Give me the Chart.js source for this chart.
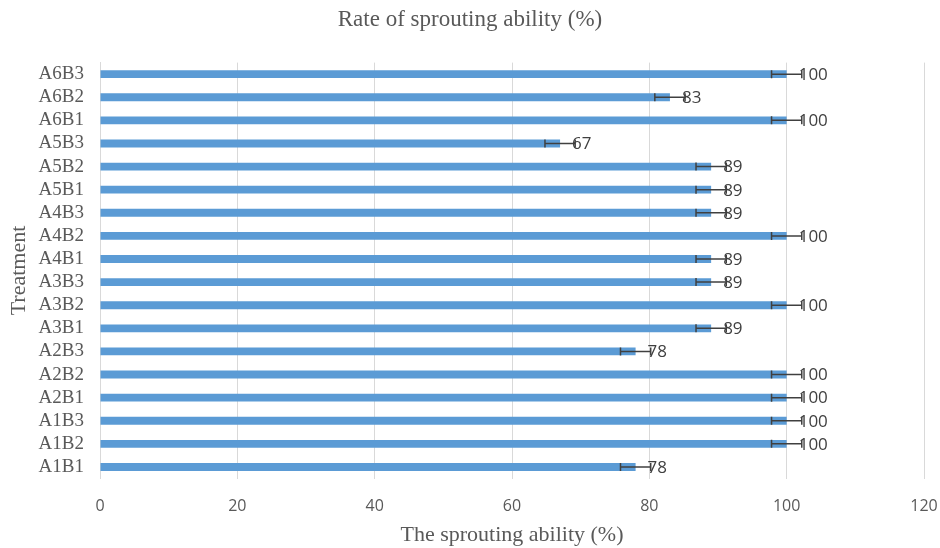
<!DOCTYPE html>
<html>
<head>
<meta charset="utf-8">
<script src="https://cdn.jsdelivr.net/npm/chart.js@4"></script>
<style>
html,body{margin:0;padding:0;background:#fff;}
#wrap{width:940px;height:548px;}
</style>
</head>
<body>
<div id="wrap"><canvas id="c" width="940" height="548"></canvas></div>
<script>
const categories = ["A1B1","A1B2","A1B3","A2B1","A2B2","A2B3","A3B1","A3B2","A3B3","A4B1","A4B2","A4B3","A5B1","A5B2","A5B3","A6B1","A6B2","A6B3"];
const values = [78,100,100,100,100,78,89,100,89,89,100,89,89,89,67,100,83,100];
const errors = [2.2,2.2,2.2,2.2,2.2,2.2,2.2,2.2,2.2,2.2,2.2,2.2,2.2,2.2,2.2,2.2,2.2,2.2];
const xTicks = [0,20,40,60,80,100,120];

const errorBarPlugin = {
  id: 'errorBars',
  afterDatasetsDraw(chart) {
    const ctx = chart.ctx;
    const xs = chart.scales.x, ys = chart.scales.y;
    ctx.save();
    ctx.strokeStyle = '#404040';
    ctx.lineWidth = 1.5;
    values.forEach((v, i) => {
      const y = ys.getPixelForValue(i);
      const x1 = xs.getPixelForValue(v - errors[i]);
      const x2 = xs.getPixelForValue(v + errors[i]);
      ctx.beginPath();
      ctx.moveTo(x1, y); ctx.lineTo(x2, y);
      ctx.moveTo(x1, y - 4); ctx.lineTo(x1, y + 4);
      ctx.moveTo(x2, y - 4); ctx.lineTo(x2, y + 4);
      ctx.stroke();
    });
    ctx.fillStyle = '#404040';
    ctx.font = '17px "Open Sans", sans-serif';
    ctx.textBaseline = 'middle';
    ctx.textAlign = 'left';
    values.forEach((v, i) => {
      const y = ys.getPixelForValue(i);
      const x = xs.getPixelForValue(v);
      ctx.fillText(String(v), x + 12, y + 1);
    });
    ctx.restore();
  }
};

new Chart(document.getElementById('c'), {
  type: 'bar',
  data: {
    labels: categories,
    datasets: [{
      data: values,
      backgroundColor: '#5B9BD5',
      barPercentage: 0.34,
      categoryPercentage: 1.0
    }]
  },
  options: {
    indexAxis: 'y',
    responsive: false,
    animation: false,
    devicePixelRatio: 1,
    layout: { padding: { left: 0, right: 0, top: 0, bottom: 0 } },
    plugins: {
      legend: { display: false },
      tooltip: { enabled: false },
      title: {
        display: true,
        text: 'Rate of sprouting ability (%)',
        color: '#595959',
        font: { family: '"Liberation Serif", serif', size: 23, weight: 'normal', lineHeight: 1.2 },
        padding: { top: 6, bottom: 29 }
      }
    },
    scales: {
      x: {
        min: 0, max: 120,
        afterBuildTicks(scale) { scale.ticks = xTicks.map(v => ({ value: v })); },
        afterFit(scale) { scale.height = 69.5; scale.paddingLeft = 0; scale.paddingRight = 16; },
        grid: { color: '#d9d9d9', lineWidth: 1, drawTicks: false },
        border: { display: false },
        ticks: {
          color: '#595959',
          padding: 18,
          font: { family: '"Open Sans", sans-serif', size: 16 }
        },
        title: {
          display: true,
          text: 'The sprouting ability (%)',
          color: '#595959',
          font: { family: '"Liberation Serif", serif', size: 22, weight: 'normal', lineHeight: 1.2 },
          padding: { top: 0, bottom: 0 }
        }
      },
      y: {
        reverse: true,
        afterFit(scale) { scale.width = 100; },
        grid: { display: false, drawTicks: false },
        border: { display: true, color: '#d9d9d9', width: 1 },
        ticks: {
          autoSkip: false,
          color: '#595959',
          padding: 16,
          font: { family: '"Liberation Serif", serif', size: 19 }
        },
        title: {
          display: true,
          text: 'Treatment',
          color: '#595959',
          font: { family: '"Liberation Serif", serif', size: 22, weight: 'normal', lineHeight: 1.2 },
          padding: { top: 6, bottom: 0 }
        }
      }
    }
  },
  plugins: [errorBarPlugin]
});
</script>
</body>
</html>
